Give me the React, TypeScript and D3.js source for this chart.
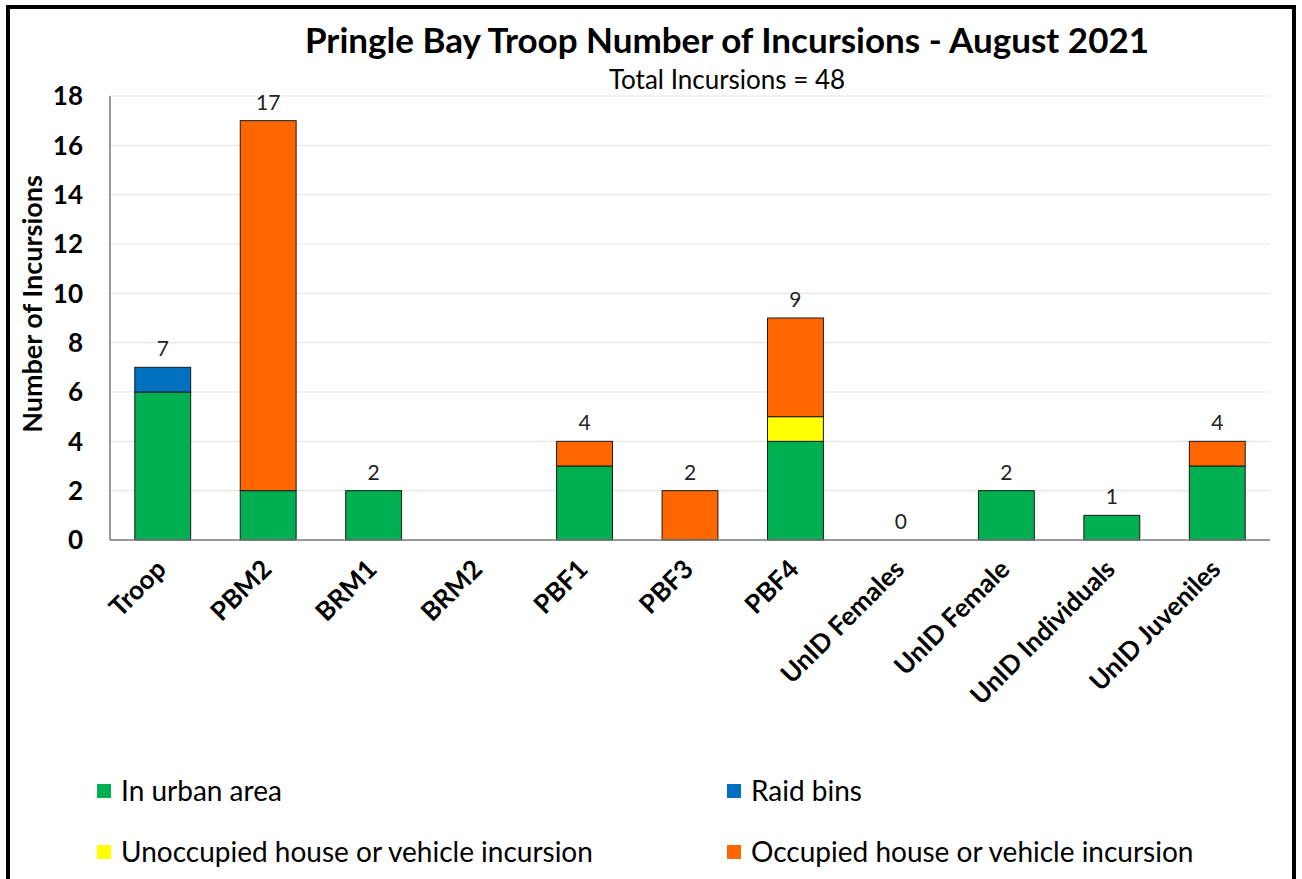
import { useRef, useEffect } from "react";
import * as d3 from "d3";

const categories = [
  "Troop",
  "PBM2",
  "BRM1",
  "BRM2",
  "PBF1",
  "PBF3",
  "PBF4",
  "UnID Females",
  "UnID Female",
  "UnID Individuals",
  "UnID Juveniles",
];

const inUrban = [6, 2, 2, 0, 3, 0, 4, 0, 2, 1, 3];
const raidBins = [1, 0, 0, 0, 0, 0, 0, 0, 0, 0, 0];
const unoccupied = [0, 0, 0, 0, 0, 0, 1, 0, 0, 0, 0];
const occupied = [0, 15, 0, 0, 1, 2, 4, 0, 0, 0, 1];
const totalLabels: (number | null)[] = [7, 17, 2, null, 4, 2, 9, 0, 2, 1, 4];

const seriesNames = [
  "In urban area",
  "Raid bins",
  "Unoccupied house or vehicle incursion",
  "Occupied house or vehicle incursion",
];
const seriesColors = ["#00B050", "#0070C0", "#FFFF00", "#FF6600"];
const yTicks = [0, 2, 4, 6, 8, 10, 12, 14, 16, 18];

const width = 1302;
const height = 879;
const margin = { left: 110, right: 32, top: 96, bottom: 339 };
const font = "Lato, 'Open Sans', sans-serif";

export default function App() {
  const ref = useRef<SVGSVGElement | null>(null);

  useEffect(() => {
    const svg = d3.select(ref.current);
    svg.selectAll("*").remove();

    svg
      .append("rect")
      .attr("x", 8)
      .attr("y", 7)
      .attr("width", 1286)
      .attr("height", 880)
      .attr("fill", "#fff")
      .attr("stroke", "#000")
      .attr("stroke-width", 4);

    const x = d3
      .scaleBand()
      .domain(categories)
      .range([margin.left, width - margin.right])
      .paddingInner(0.47)
      .paddingOuter(0.235);

    const y = d3
      .scaleLinear()
      .domain([0, 18])
      .range([height - margin.bottom, margin.top]);

    // gridlines
    svg
      .append("g")
      .selectAll("line")
      .data(yTicks.filter((t) => t > 0))
      .join("line")
      .attr("x1", margin.left)
      .attr("x2", width - margin.right)
      .attr("y1", (d) => y(d))
      .attr("y2", (d) => y(d))
      .attr("stroke", "#e6e6e6")
      .attr("stroke-width", 1.2);

    // y tick labels
    svg
      .append("g")
      .selectAll("text")
      .data(yTicks)
      .join("text")
      .attr("x", 83)
      .attr("y", (d) => y(d))
      .attr("dy", "0.36em")
      .attr("text-anchor", "end")
      .attr("font-family", font)
      .attr("font-weight", "bold")
      .attr("font-size", 26)
      .text((d) => d);

    const rows = categories.map((c, i) => ({
      cat: c,
      s0: inUrban[i],
      s1: raidBins[i],
      s2: unoccupied[i],
      s3: occupied[i],
    }));
    const stack = d3.stack<any>().keys(["s0", "s1", "s2", "s3"]);
    const layers = stack(rows);

    layers.forEach((layer, li) => {
      svg
        .append("g")
        .selectAll("rect")
        .data(layer.filter((d) => d[1] - d[0] > 0))
        .join("rect")
        .attr("x", (d) => x(d.data.cat)!)
        .attr("width", x.bandwidth())
        .attr("y", (d) => y(d[1]))
        .attr("height", (d) => y(d[0]) - y(d[1]))
        .attr("fill", seriesColors[li])
        .attr("stroke", "#1a1a1a")
        .attr("stroke-width", 1);
    });

    // axes lines
    svg
      .append("line")
      .attr("x1", margin.left)
      .attr("x2", margin.left)
      .attr("y1", y(18))
      .attr("y2", y(0))
      .attr("stroke", "#555")
      .attr("stroke-width", 1.2);
    svg
      .append("line")
      .attr("x1", margin.left)
      .attr("x2", width - margin.right)
      .attr("y1", y(0))
      .attr("y2", y(0))
      .attr("stroke", "#777")
      .attr("stroke-width", 1.5);

    // value labels
    svg
      .append("g")
      .selectAll("text")
      .data(categories.map((c, i) => ({ c, v: totalLabels[i] })).filter((d) => d.v != null))
      .join("text")
      .attr("x", (d) => x(d.c)! + x.bandwidth() / 2)
      .attr("y", (d) => y(d.v as number) - 11)
      .attr("text-anchor", "middle")
      .attr("font-family", font)
      .attr("font-size", 21)
      .attr("fill", "#222")
      .text((d) => String(d.v));

    // x labels
    svg
      .append("g")
      .selectAll("text")
      .data(categories)
      .join("text")
      .attr(
        "transform",
        (d) => `translate(${x(d)! + x.bandwidth() / 2 - 8},${y(0) + 18}) rotate(-45)`
      )
      .attr("text-anchor", "end")
      .attr("dy", "0.7em")
      .attr("font-family", font)
      .attr("font-weight", "bold")
      .attr("font-size", 26)
      .text((d) => d);

    // axis title
    svg
      .append("text")
      .attr("transform", `translate(42,${y(9) - 14}) rotate(-90)`)
      .attr("text-anchor", "middle")
      .attr("font-family", font)
      .attr("font-weight", "bold")
      .attr("font-size", 27)
      .text("Number of Incursions");

    // titles
    svg
      .append("text")
      .attr("x", 727)
      .attr("y", 53)
      .attr("text-anchor", "middle")
      .attr("font-family", font)
      .attr("font-weight", "bold")
      .attr("font-size", 35)
      .text("Pringle Bay Troop Number of Incursions - August 2021");
    svg
      .append("text")
      .attr("x", 727)
      .attr("y", 89)
      .attr("text-anchor", "middle")
      .attr("font-family", font)
      .attr("font-size", 26)
      .text("Total Incursions = 48");

    // legend
    const legendPos = [
      [97, 791],
      [727, 791],
      [97, 852],
      [727, 852],
    ];
    const lg = svg
      .append("g")
      .selectAll("g")
      .data(seriesNames)
      .join("g")
      .attr("transform", (_, i) => `translate(${legendPos[i][0]},${legendPos[i][1]})`);
    lg.append("rect")
      .attr("x", 0)
      .attr("y", -7)
      .attr("width", 14)
      .attr("height", 14)
      .attr("fill", (_, i) => seriesColors[i]);
    lg.append("text")
      .attr("x", 24)
      .attr("dy", "0.35em")
      .attr("font-family", font)
      .attr("font-size", 28)
      .text((d) => d);
  }, []);

  return (
    <svg
      ref={ref}
      width={width}
      height={height}
      style={{ position: "absolute", left: 0, top: 0 }}
    />
  );
}
